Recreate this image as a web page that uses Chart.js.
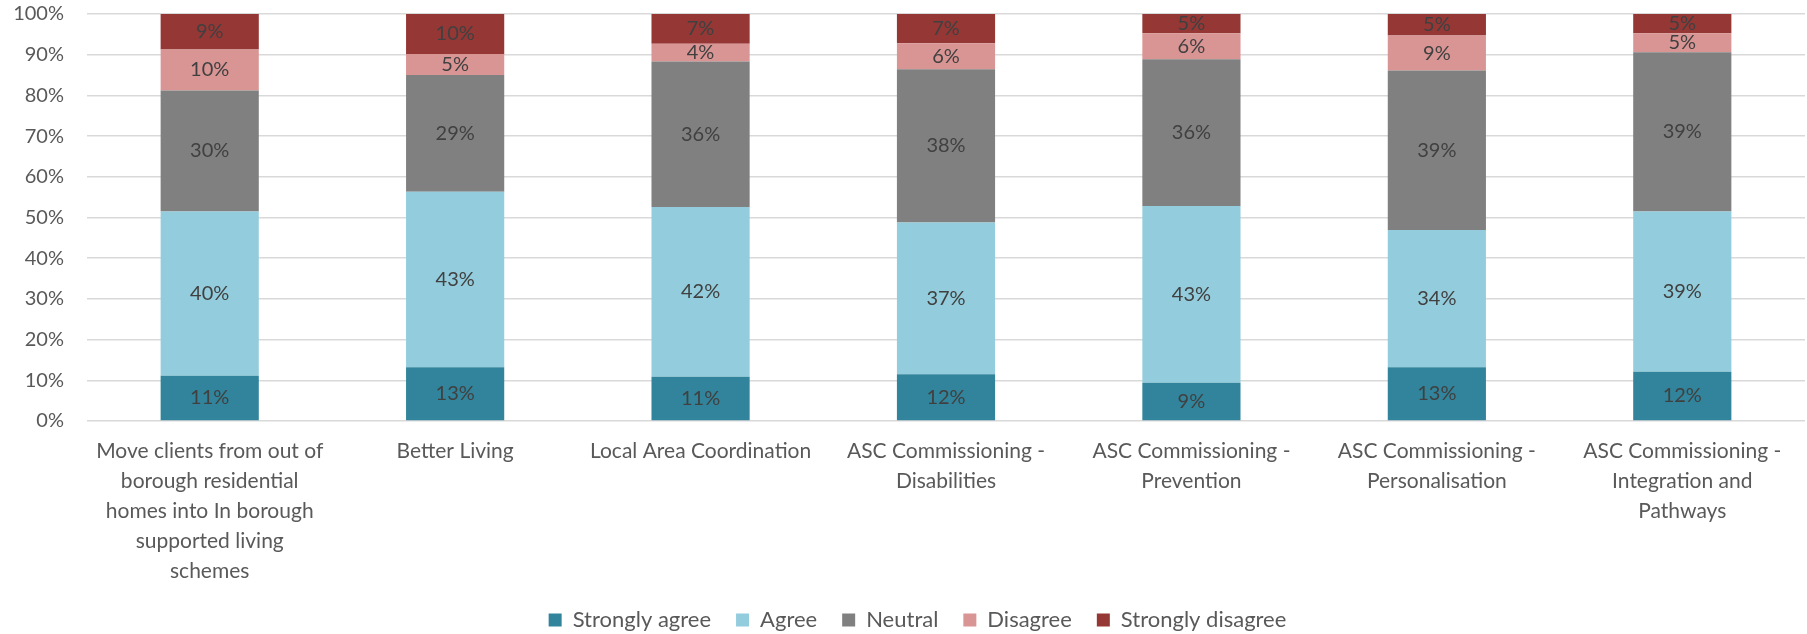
<!DOCTYPE html>
<html>
<head>
<meta charset="utf-8">
<script src="https://cdn.jsdelivr.net/npm/chart.js@4/dist/chart.umd.min.js"></script>
<style>
  html, body { margin: 0; padding: 0; background: #fff; }
  #wrap { width: 1807px; height: 634px; }
</style>
</head>
<body>
<div id="wrap"><canvas id="chart"></canvas></div>
<script>
/* ================= DATA ================= */
const categories = [
  ["Move clients from out of", "borough residential", "homes into In borough", "supported living", "schemes"],
  "Better Living",
  "Local Area Coordination",
  ["ASC Commissioning -", "Disabilities"],
  ["ASC Commissioning -", "Prevention"],
  ["ASC Commissioning -", "Personalisation"],
  ["ASC Commissioning -", "Integration and", "Pathways"]
];

const stronglyAgree    = [11.1, 13.2, 10.9, 11.5,  9.4, 13.2, 12.1];
const agree            = [40.4, 43.1, 41.7, 37.3, 43.4, 33.7, 39.4];
const neutral          = [29.7, 28.7, 35.7, 37.6, 36.1, 39.2, 39.1];
const disagree         = [10.1,  5.2,  4.4,  6.4,  6.4,  8.6,  4.7];
const stronglyDisagree = [ 8.7,  9.8,  7.3,  7.2,  4.7,  5.3,  4.7];

const yTicks = [0, 10, 20, 30, 40, 50, 60, 70, 80, 90, 100];

/* ================= STYLE ================= */
const FONT = "Lato, 'Open Sans', sans-serif";
const TEXT = "#595959";

/* draw rounded % in the middle of each segment */
const segmentLabels = {
  id: "segmentLabels",
  afterDatasetsDraw(chart) {
    const ctx = chart.ctx;
    ctx.save();
    ctx.font = "20px " + FONT;
    ctx.fillStyle = "#404040";
    ctx.textAlign = "center";
    ctx.textBaseline = "middle";
    chart.data.datasets.forEach((ds, i) => {
      chart.getDatasetMeta(i).data.forEach((bar, j) => {
        const y = (bar.y + bar.base) / 2;
        ctx.fillText(Math.round(ds.data[j]) + "%", bar.x, y);
      });
    });
    ctx.restore();
  }
};

/* legend sits a little right of the canvas centre in the original */
const shiftLegend = {
  id: "shiftLegend",
  afterLayout(chart) {
    chart.legend.left += 15;
    chart.legend.right += 15;
  }
};

new Chart(document.getElementById("chart"), {
  type: "bar",
  data: {
    labels: categories,
    datasets: [
      { label: "Strongly agree",    data: stronglyAgree,    backgroundColor: "#31849B" },
      { label: "Agree",             data: agree,            backgroundColor: "#93CDDD" },
      { label: "Neutral",           data: neutral,          backgroundColor: "#808080" },
      { label: "Disagree",          data: disagree,         backgroundColor: "#D99594" },
      { label: "Strongly disagree", data: stronglyDisagree, backgroundColor: "#953735" }
    ]
  },
  options: {
    responsive: true,
    maintainAspectRatio: false,
    animation: false,
    datasets: { bar: { barPercentage: 0.4, categoryPercentage: 1 } },
    layout: { padding: { top: 14, right: 2, left: 0, bottom: -7 } },
    plugins: {
      tooltip: { enabled: false },
      legend: {
        position: "bottom",
        labels: {
          boxWidth: 13,
          boxHeight: 13,
          padding: 25,
          color: TEXT,
          font: { family: FONT, size: 22 }
        }
      }
    },
    scales: {
      x: {
        stacked: true,
        grid: { display: false, drawTicks: false },
        border: { display: false },
        ticks: {
          padding: 15,
          color: TEXT,
          maxRotation: 0,
          autoSkip: false,
          font: { family: FONT, size: 21, lineHeight: "30px" }
        },
        afterFit(scale) { scale.height = 163; }
      },
      y: {
        stacked: true,
        min: 0,
        max: 100,
        afterBuildTicks(scale) { scale.ticks = yTicks.map(v => ({ value: v })); },
        grid: { color: "#D9D9D9", lineWidth: 1.5, drawTicks: false },
        border: { display: false },
        ticks: {
          padding: 23,
          color: TEXT,
          font: { family: FONT, size: 20 },
          callback: v => v + "%"
        },
        afterFit(scale) {
          scale.width = 87;
          scale.paddingTop = 0;
          scale.paddingBottom = 0;
        }
      }
    }
  },
  plugins: [segmentLabels, shiftLegend]
});
</script>
</body>
</html>
